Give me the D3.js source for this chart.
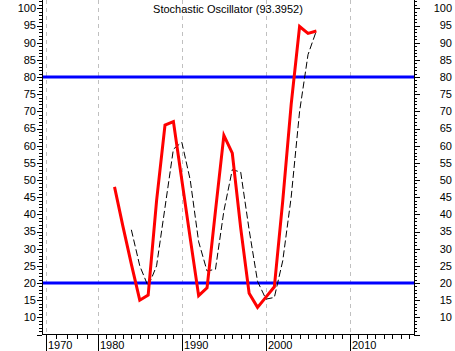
<!DOCTYPE html>
<html><head><meta charset="utf-8">
<script src="https://cdn.jsdelivr.net/npm/d3@7"></script>
<style>body{margin:0;background:#fff}svg{display:block}text{font-family:"Liberation Sans",Arial,sans-serif;font-size:11px;fill:#000}</style>
</head><body><svg id="c" width="455" height="351"></svg>
<script>
const title = "Stochastic Oscillator (93.3952)";
const years = [1982,1983,1984,1985,1986,1987,1988,1989,1990,1991,1992,1993,1994,1995,1996,1997,1998,1999,2000,2001,2002,2003,2004,2005,2006];
const kValues = [48,36.5,25.5,15,16.5,44,66,67,50,33,16.3,18.6,41,63,57.8,36,17,12.9,15.9,18.9,44,72,94.7,92.7,93.4];
const dYears = [1984,1985,1986,1987,1988,1989,1990,1991,1992,1993,1994,1995,1996,1997,1998,1999,2000,2001,2002,2003,2004,2005,2006];
const dValues = [35.5,25,19,25,42,59,61,50,32,23.5,24,41,53,52.3,35.5,20.5,15.3,15.8,26.5,45,70,86.5,93.5];
const levels = [20, 80];
const decadeTicks = [1970,1980,1990,2000,2010];
const yLabels = [10,15,20,25,30,35,40,45,50,55,60,65,70,75,80,85,90,95,100];

const svg = d3.select("#c");
const L = 42, R = 414, B = 334, T = 0;
const x = d3.scaleLinear().domain([1969.2, 1970, 1980, 2017.6]).range([L, 46, 97.7, R]);
const y = d3.scaleLinear().domain([5, 100]).range([334.5, 8.34]);

// grid
svg.append("g").selectAll("line").data(decadeTicks).join("line")
  .attr("x1", d => Math.round(x(d)) + 0.5).attr("x2", d => Math.round(x(d)) + 0.5)
  .attr("y1", T).attr("y2", B)
  .attr("stroke", "#c0c0c0").attr("stroke-dasharray", "4,4");

// levels
svg.append("g").selectAll("line").data(levels).join("line")
  .attr("x1", L).attr("x2", R).attr("y1", d => y(d)).attr("y2", d => y(d))
  .attr("stroke", "#0000ff").attr("stroke-width", 3);

// axes lines
const ax = svg.append("g").attr("stroke", "#000").attr("shape-rendering", "crispEdges");
ax.append("line").attr("x1", L + 0.5).attr("x2", L + 0.5).attr("y1", T).attr("y2", B + 0.5);
ax.append("line").attr("x1", R + 0.5).attr("x2", R + 0.5).attr("y1", T).attr("y2", B + 0.5);
ax.append("line").attr("x1", L).attr("x2", R + 1).attr("y1", B + 0.5).attr("y2", B + 0.5);

// y ticks
const yMinor = d3.range(5, 103);
yMinor.forEach(v => {
  const yy = Math.round(y(v)) + 0.5;
  const major = v % 5 === 0;
  ax.append("line").attr("x1", L - (major ? 5 : 3)).attr("x2", L).attr("y1", yy).attr("y2", yy);
  ax.append("line").attr("x1", R).attr("x2", R + (major ? 6 : 3)).attr("y1", yy).attr("y2", yy);
});
svg.append("g").selectAll("text").data(yLabels).join("text")
  .attr("x", 36).attr("y", d => y(d)).attr("dy", "0.36em").attr("text-anchor", "end").text(d => d);
svg.append("g").selectAll("text").data(yLabels).join("text")
  .attr("x", 452).attr("y", d => y(d)).attr("dy", "0.36em").attr("text-anchor", "end").text(d => d);

// x ticks
const xMinor = d3.range(1970, 1980, 2).concat(d3.range(1980, 2018));
xMinor.forEach(v => {
  const xx = Math.round(x(v)) + 0.5;
  const major = v % 10 === 0;
  ax.append("line").attr("x1", xx).attr("x2", xx).attr("y1", B).attr("y2", major ? 351 : B + 5);
});
svg.append("g").selectAll("text").data(decadeTicks).join("text")
  .attr("x", d => Math.round(x(d)) + 2).attr("y", 349).text(d => d);

// title
svg.append("text").attr("x", (L + R) / 2).attr("y", 13).attr("text-anchor", "middle").text(title);

// lines
const lineK = d3.line().x((d, i) => x(years[i])).y(d => y(d));
const lineD = d3.line().x((d, i) => x(dYears[i])).y(d => y(d));
svg.append("path").attr("d", lineD(dValues)).attr("fill", "none")
  .attr("stroke", "#000").attr("stroke-width", 1).attr("stroke-dasharray", "7,3");
svg.append("path").attr("d", lineK(kValues)).attr("fill", "none")
  .attr("stroke", "#ff0000").attr("stroke-width", 3).attr("stroke-linejoin", "miter");
</script></body></html>
